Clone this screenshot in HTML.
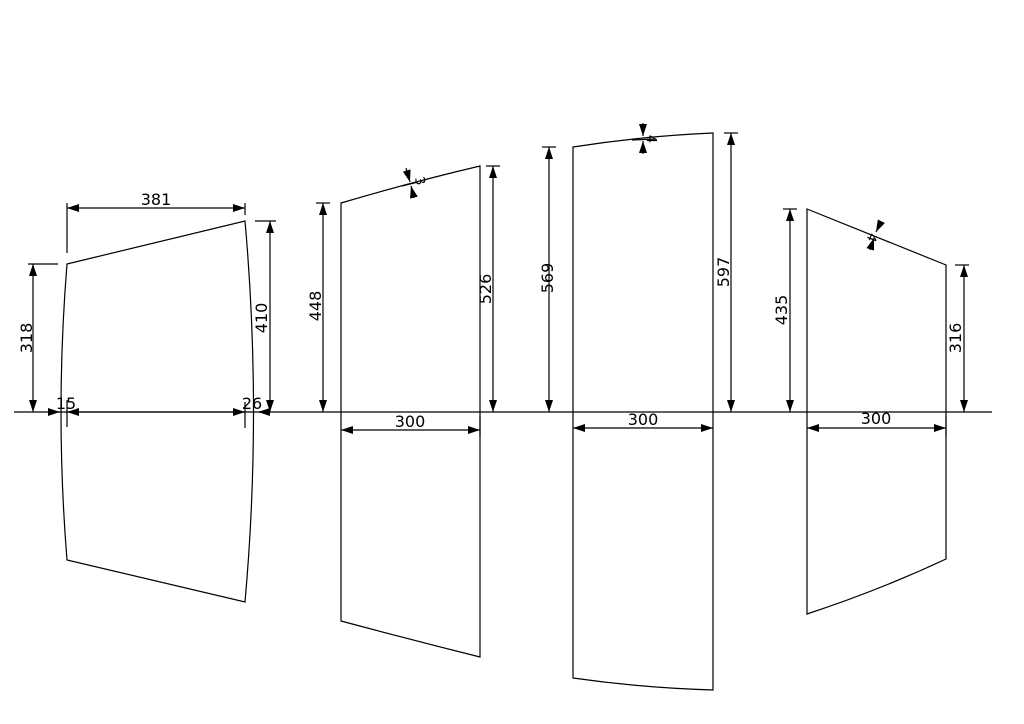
<!DOCTYPE html>
<html><head><meta charset="utf-8"><style>
html,body{margin:0;padding:0;background:#fff;width:1024px;height:724px;overflow:hidden}
text{font-family:"DejaVu Sans","Liberation Sans",sans-serif;font-size:16px;fill:#000}
</style></head><body>
<svg width="1024" height="724" viewBox="0 0 1024 724" xmlns="http://www.w3.org/2000/svg">
<defs>
<marker id="a" viewBox="0 0 12 8" refX="12" refY="4" markerWidth="12" markerHeight="8" markerUnits="userSpaceOnUse" orient="auto-start-reverse"><path d="M0,0 L12,4 L0,8Z" fill="#000"/></marker>
</defs>
<g stroke="#000" stroke-width="1.2" fill="none">
<line x1="14" y1="412" x2="992" y2="412"/>
<path d="M67,264 L245,221 Q262,412 245,602 L67,560 Q55,412 67,264Z"/>
<line x1="67" y1="203" x2="67" y2="253"/>
<line x1="245" y1="203" x2="245" y2="215"/>
<line x1="67" y1="208" x2="245" y2="208" marker-start="url(#a)" marker-end="url(#a)"/>
<line x1="28" y1="264" x2="58" y2="264"/>
<line x1="33" y1="264" x2="33" y2="412" marker-start="url(#a)" marker-end="url(#a)"/>
<line x1="255" y1="221" x2="276" y2="221"/>
<line x1="270" y1="221" x2="270" y2="412" marker-start="url(#a)" marker-end="url(#a)"/>
<line x1="67" y1="400" x2="67" y2="427"/>
<line x1="48" y1="412" x2="60" y2="412" marker-end="url(#a)"/>
<line x1="67" y1="412" x2="245" y2="412" marker-start="url(#a)" marker-end="url(#a)"/>
<line x1="245" y1="402" x2="245" y2="428"/>
<line x1="270" y1="412" x2="258" y2="412" marker-end="url(#a)"/>
<path d="M341,203 Q412,182 480,166 L480,657 Q412,640 341,621Z"/>
<line x1="316" y1="203" x2="330" y2="203"/>
<line x1="323" y1="203" x2="323" y2="412" marker-start="url(#a)" marker-end="url(#a)"/>
<line x1="486" y1="166" x2="500" y2="166"/>
<line x1="493" y1="166" x2="493" y2="412" marker-start="url(#a)" marker-end="url(#a)"/>
<line x1="341" y1="430" x2="480" y2="430" marker-start="url(#a)" marker-end="url(#a)"/>
<line x1="480" y1="416" x2="480" y2="436"/>
<line x1="406" y1="168" x2="410" y2="182" marker-end="url(#a)"/>
<line x1="414" y1="198" x2="411" y2="186" marker-end="url(#a)"/>
<line x1="402" y1="186" x2="418" y2="182"/>
<path d="M573,147 Q643,136 713,133 L713,690 Q643,688 573,678Z"/>
<line x1="542" y1="147" x2="556" y2="147"/>
<line x1="549" y1="147" x2="549" y2="412" marker-start="url(#a)" marker-end="url(#a)"/>
<line x1="724" y1="133" x2="738" y2="133"/>
<line x1="731" y1="133" x2="731" y2="412" marker-start="url(#a)" marker-end="url(#a)"/>
<line x1="573" y1="428" x2="713" y2="428" marker-start="url(#a)" marker-end="url(#a)"/>
<line x1="643" y1="123" x2="643" y2="136" marker-end="url(#a)"/>
<line x1="643" y1="154" x2="643" y2="141" marker-end="url(#a)"/>
<line x1="632" y1="140" x2="656" y2="139"/>
<path d="M807,209 L946,265 L946,559 Q880,590 807,614Z"/>
<line x1="783" y1="209" x2="797" y2="209"/>
<line x1="790" y1="209" x2="790" y2="412" marker-start="url(#a)" marker-end="url(#a)"/>
<line x1="955" y1="265" x2="969" y2="265"/>
<line x1="964" y1="265" x2="964" y2="412" marker-start="url(#a)" marker-end="url(#a)"/>
<line x1="807" y1="428" x2="946" y2="428" marker-start="url(#a)" marker-end="url(#a)"/>
<line x1="946" y1="416" x2="946" y2="436"/>
<line x1="881" y1="222" x2="876" y2="232" marker-end="url(#a)"/>
<line x1="870" y1="250" x2="874" y2="238" marker-end="url(#a)"/>
</g>
<text x="156" y="205" text-anchor="middle">381</text>
<text transform="translate(32,338) rotate(-90)" text-anchor="middle">318</text>
<text transform="translate(267,318) rotate(-90)" text-anchor="middle">410</text>
<text x="66" y="409" text-anchor="middle">15</text>
<text x="252" y="409" text-anchor="middle">26</text>
<text transform="translate(321,306) rotate(-90)" text-anchor="middle">448</text>
<text transform="translate(491,289) rotate(-90)" text-anchor="middle">526</text>
<text x="410" y="427" text-anchor="middle">300</text>
<text transform="translate(416,182) rotate(75)" text-anchor="middle" style="font-size:13px">3</text>
<text transform="translate(553,278) rotate(-90)" text-anchor="middle">569</text>
<text transform="translate(729,272) rotate(-90)" text-anchor="middle">597</text>
<text x="643" y="425" text-anchor="middle">300</text>
<text transform="translate(647,139) rotate(90)" text-anchor="middle" style="font-size:13px">4</text>
<text transform="translate(787,310) rotate(-90)" text-anchor="middle">435</text>
<text transform="translate(961,338) rotate(-90)" text-anchor="middle">316</text>
<text x="876" y="424" text-anchor="middle">300</text>
<text transform="translate(868,236) rotate(112)" text-anchor="middle" style="font-size:13px">4</text>
</svg>
</body></html>
